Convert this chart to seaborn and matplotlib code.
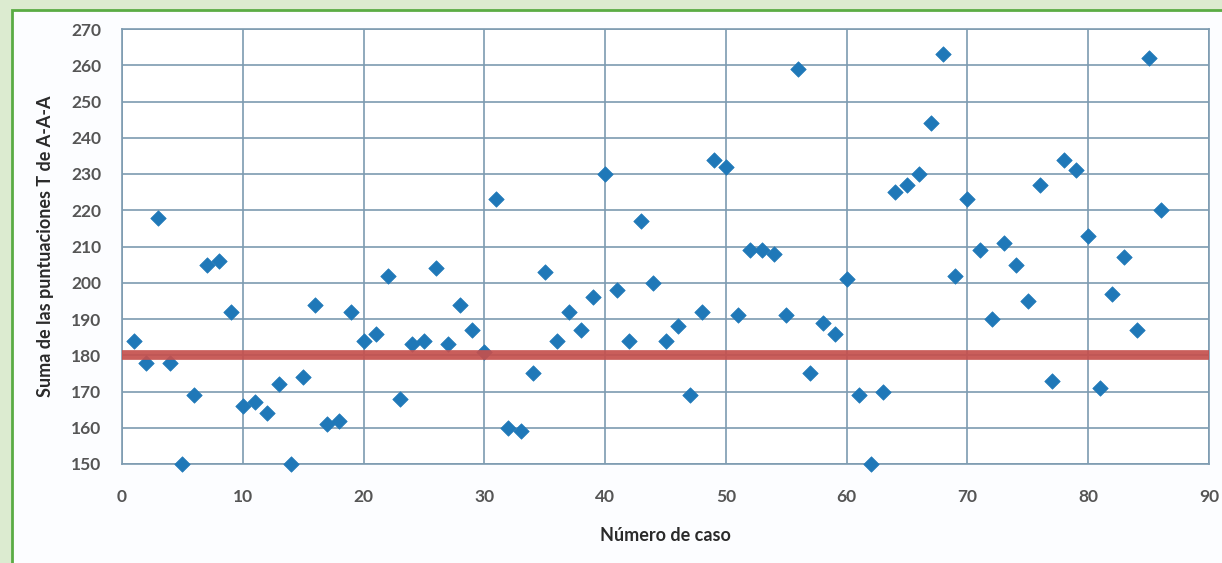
import numpy as np
import pandas as pd
import matplotlib.pyplot as plt
import seaborn as sns
from matplotlib.patches import Rectangle

# case number and sum of T scores
caso = list(range(1, 87))
suma = [184, 178, 218, 178, 150, 169, 205, 206, 192, 166,
        167, 164, 172, 150, 174, 194, 161, 162, 192, 184,
        186, 202, 168, 183, 184, 204, 183, 194, 187, 181,
        223, 160, 159, 175, 203, 184, 192, 187, 196, 230,
        198, 184, 217, 200, 184, 188, 169, 192, 234, 232,
        191, 209, 209, 208, 191, 259, 175, 189, 186, 201,
        169, 150, 170, 225, 227, 230, 244, 263, 202, 223,
        209, 190, 211, 205, 195, 227, 173, 234, 231, 213,
        171, 197, 207, 187, 262, 220]
corte = 180
xticks = [0, 10, 20, 30, 40, 50, 60, 70, 80, 90]
yticks = [150, 160, 170, 180, 190, 200, 210, 220, 230, 240, 250, 260, 270]

df = pd.DataFrame({'caso': caso, 'suma': suma})

sns.set_style('white')
plt.rcParams['font.family'] = ['Lato', 'DejaVu Sans']

fig = plt.figure(figsize=(12.22, 5.63), dpi=100, facecolor='#dcebd0')
# white panel with green frame (open on the right and bottom)
fig.patches.append(Rectangle((12/1222, -0.02), 1.0, 1 - 10/563 + 0.02,
                             transform=fig.transFigure, facecolor='#fcfdff',
                             edgecolor='#5aac44', linewidth=2, zorder=-10))

ax = fig.add_axes([122/1222, 1 - 464/563, (1209-122)/1222, (464-29)/563])
ax.set_facecolor('white')

gridc = '#7d9bb0'
ax.grid(True, color=gridc, linewidth=1.2)
ax.set_axisbelow(True)

sns.scatterplot(data=df, x='caso', y='suma', marker='D', s=62, color='#1f78b8',
                edgecolor='#1f78b8', linewidth=0.5, ax=ax, zorder=3, clip_on=False)

# cut-off line, drawn over the points
ax.plot([0, 90], [corte, corte], color='#c5504d', linewidth=7, alpha=0.92, zorder=4,
        solid_capstyle='butt')

ax.set_xlim(0, 90)
ax.set_ylim(150, 270)
ax.set_xticks(xticks)
ax.set_yticks(yticks)
ax.tick_params(axis='both', length=5, color=gridc, width=1.2, labelsize=12.5,
               labelcolor='#555555')
ax.tick_params(axis='y', pad=10)
ax.tick_params(axis='x', pad=13)
for lab in ax.get_xticklabels() + ax.get_yticklabels():
    lab.set_fontweight('bold')
for side in ['left', 'bottom', 'right', 'top']:
    ax.spines[side].set_color(gridc)
    ax.spines[side].set_linewidth(1.2)

ax.set_xlabel('Número de caso', fontsize=13, fontweight='bold', color='#2a2a2a', labelpad=16)
ax.set_ylabel('Suma de las puntuaciones T de A-A-A', fontsize=13, fontweight='bold',
              color='#2a2a2a', labelpad=12)

fig.savefig('out.png', dpi=100, facecolor=fig.get_facecolor())
